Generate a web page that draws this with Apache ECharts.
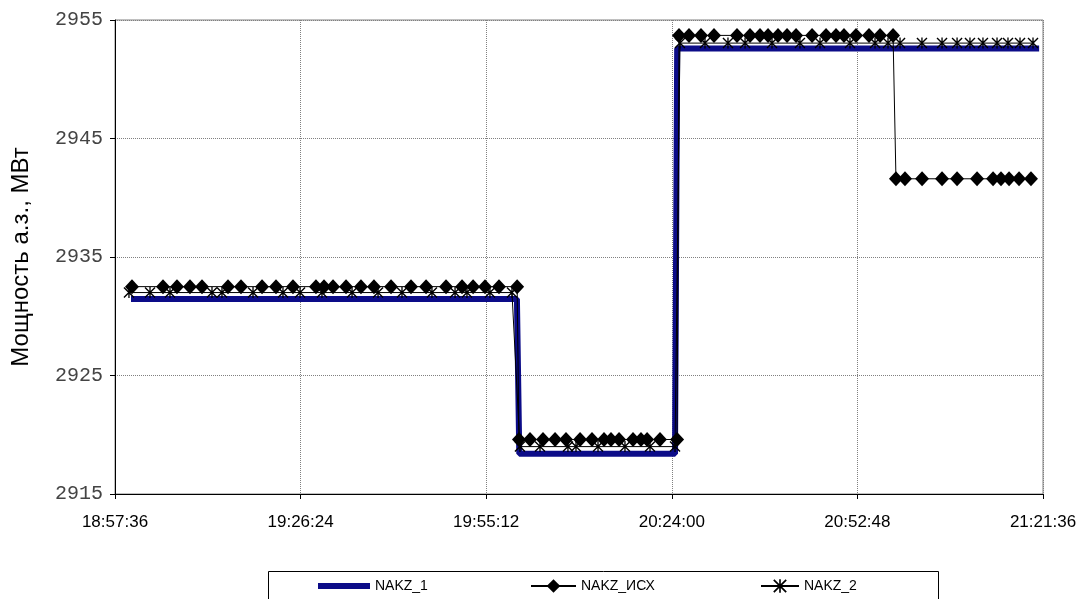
<!DOCTYPE html>
<html>
<head>
<meta charset="utf-8">
<script src="https://cdn.jsdelivr.net/npm/echarts@6/dist/echarts.min.js"></script>
<style>
html,body{margin:0;padding:0;background:#fff;}
#chart{width:1087px;height:599px;}
</style>
</head>
<body>
<div id="chart"></div>
<script>
// ---- data (time of day, value) ----
const xStart = '18:57:36';
const xEnd = '21:21:36';
const xTickStep = '00:28:48';
const yMin = 2915, yMax = 2955, yStep = 10;
const yAxisTitle = 'Мощность а.з., МВт';
const seriesNames = ['NAKZ_1','NAKZ_ИСХ','NAKZ_2'];

const nakz1Times = ['19:00:05','19:59:58','20:00:20','20:24:30','20:24:50','21:21:00'];
const nakz1Values = [2931.45,2931.45,2918.4,2918.4,2952.6,2952.6];

const nakzIsxTimes = [
 '19:00:14','19:05:03','19:07:13','19:09:14','19:11:06','19:15:08','19:17:09','19:20:25','19:22:35','19:25:13',
 '19:28:47','19:30:02','19:31:26','19:33:27','19:35:46','19:37:47','19:40:26','19:43:32','19:45:52','19:48:58',
 '19:51:27','19:53:10','19:55:01','19:57:11','20:00:00',
 '20:00:17','20:02:00','20:04:01','20:05:53','20:07:35','20:09:46','20:11:37','20:13:29','20:14:34','20:15:49',
 '20:17:59','20:19:13','20:20:10','20:22:10','20:24:49',
 '20:25:07','20:26:40','20:28:32','20:30:33','20:34:07','20:36:08','20:37:41','20:38:56','20:40:29','20:41:53',
 '20:43:17','20:45:46','20:47:56','20:49:29','20:50:43','20:52:35','20:54:36','20:56:19','20:58:20',
 '20:58:47','21:00:11','21:02:50','21:05:56','21:08:16','21:11:22','21:13:51','21:15:05','21:16:20','21:17:53','21:19:44'
];
const nakzIsxValues = [
 2932.5,2932.5,2932.5,2932.5,2932.5,2932.5,2932.5,2932.5,2932.5,2932.5,
 2932.5,2932.5,2932.5,2932.5,2932.5,2932.5,2932.5,2932.5,2932.5,2932.5,
 2932.5,2932.5,2932.5,2932.5,2932.5,
 2919.6,2919.6,2919.6,2919.6,2919.6,2919.6,2919.6,2919.6,2919.6,2919.6,
 2919.6,2919.6,2919.6,2919.6,2919.6,
 2953.7,2953.7,2953.7,2953.7,2953.7,2953.7,2953.7,2953.7,2953.7,2953.7,
 2953.7,2953.7,2953.7,2953.7,2953.7,2953.7,2953.7,2953.7,2953.7,
 2941.6,2941.6,2941.6,2941.6,2941.6,2941.6,2941.6,2941.6,2941.6,2941.6,2941.6
];

const nakz2Times = [
 '18:59:46','19:03:02','19:06:08','19:12:39','19:14:12','19:19:01','19:23:40','19:26:19','19:29:43','19:34:23',
 '19:38:25','19:42:08','19:46:47','19:50:22','19:52:13','19:55:47','19:59:12',
 '20:00:26','20:03:33','20:07:53','20:09:08','20:12:33','20:16:44','20:20:37','20:24:30',
 '20:25:16','20:29:09','20:32:43','20:35:22','20:39:33','20:43:53','20:47:00','20:51:39','20:55:32','20:57:33',
 '20:59:25','21:02:49','21:05:56','21:08:16','21:10:16','21:12:17','21:14:28','21:16:10','21:18:02','21:20:03'
];
const nakz2Values = [
 2932.0,2932.0,2932.0,2932.0,2932.0,2932.0,2932.0,2932.0,2932.0,2932.0,
 2932.0,2932.0,2932.0,2932.0,2932.0,2932.0,2932.0,
 2919.0,2919.0,2919.0,2919.0,2919.0,2919.0,2919.0,2919.0,
 2953.05,2953.05,2953.05,2953.05,2953.05,2953.05,2953.05,2953.05,2953.05,2953.05,
 2953.05,2953.05,2953.05,2953.05,2953.05,2953.05,2953.05,2953.05,2953.05,2953.05
];

// ---- helpers ----
function toSec(t){const p=t.split(':').map(Number);return p[0]*3600+p[1]*60+p[2];}
const base = toSec(xStart);
function pad(n){return (n<10?'0':'')+n;}
function fmt(s){s=Math.round(s)+base;const h=Math.floor(s/3600),m=Math.floor((s%3600)/60),c=s%60;return h+':'+pad(m)+':'+pad(c);}
function pairs(ts,vs){return ts.map((t,i)=>[toSec(t)-base,vs[i]]);}

const starPath = 'path://M4.4,0L5.6,0L5.6,10L4.4,10Z M0,0.9L0.9,0L10,9.1L9.1,10Z M9.1,0L10,0.9L0.9,10L0,9.1Z';
const sans = '"Liberation Sans", Arial, sans-serif';
const mono = '"Liberation Mono", "Courier New", "DejaVu Sans Mono", monospace';
const legendText = {fontFamily:sans,fontSize:14,color:'#000'};
const blue = '#0c0c88';

const chart = echarts.init(document.getElementById('chart'), null, {renderer:'canvas'});
chart.setOption({
  animation:false,
  backgroundColor:'#fff',
  grid:{left:115,right:44,top:20,bottom:105,show:true,borderColor:'#808080',borderWidth:1},
  graphic:[{type:'rect',shape:{x:268.5,y:571.5,width:670,height:40},
            style:{fill:'#fff',stroke:'#000',lineWidth:1},z:-1}],
  xAxis:{
    type:'value',min:0,max:toSec(xEnd)-base,interval:toSec(xTickStep),
    axisLine:{show:true,lineStyle:{color:'#000',width:1}},
    axisTick:{show:true,length:5,lineStyle:{color:'#000'}},
    axisLabel:{formatter:v=>fmt(v),color:'#000',fontFamily:sans,fontSize:17,margin:20},
    splitLine:{show:true,lineStyle:{color:'#808080',type:'dotted',width:1}}
  },
  yAxis:{
    type:'value',min:yMin,max:yMax,interval:yStep,
    name:yAxisTitle,nameLocation:'middle',nameGap:82,
    nameTextStyle:{fontFamily:sans,fontSize:24,color:'#000'},
    axisLine:{show:true,lineStyle:{color:'#000',width:1}},
    axisTick:{show:true,length:5,lineStyle:{color:'#000'}},
    axisLabel:{formatter:v=>String(v),color:'#444',fontFamily:mono,fontSize:20,margin:12},
    splitLine:{show:true,lineStyle:{color:'#808080',type:'dotted',width:1}}
  },
  legend:[
    {left:318,top:579,padding:0,itemWidth:52,itemHeight:6,textStyle:legendText,
     data:[{name:seriesNames[0],icon:'path://M0,0L52,0L52,6L0,6Z'}]},
    {left:530,top:579,padding:0,itemWidth:45,itemHeight:17,textStyle:legendText,
     data:[seriesNames[1]]},
    {left:760,top:579,padding:0,itemWidth:38,itemHeight:17,textStyle:legendText,
     data:[seriesNames[2]]}
  ],
  series:[
    {name:seriesNames[0],type:'line',data:pairs(nakz1Times,nakz1Values),symbol:'none',
     lineStyle:{color:blue,width:6},itemStyle:{color:blue},z:2},
    {name:seriesNames[1],type:'line',data:pairs(nakzIsxTimes,nakzIsxValues),symbol:'diamond',symbolSize:[14,15],
     lineStyle:{color:'#000',width:1},itemStyle:{color:'#000'},z:3},
    {name:seriesNames[2],type:'line',data:pairs(nakz2Times,nakz2Values),symbol:starPath,symbolSize:11,
     lineStyle:{color:'#000',width:1},itemStyle:{color:'#000'},z:4}
  ]
});
</script>
</body>
</html>
